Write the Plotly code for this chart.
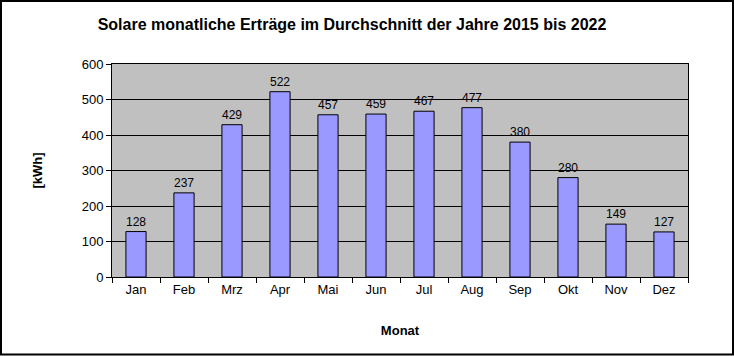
import plotly.graph_objects as go

months = ["Jan", "Feb", "Mrz", "Apr", "Mai", "Jun", "Jul", "Aug", "Sep", "Okt", "Nov", "Dez"]
values = [128, 237, 429, 522, 457, 459, 467, 477, 380, 280, 149, 127]
y_ticks = [0, 100, 200, 300, 400, 500, 600]

W, H = 734, 356
L, R, T, B = 112, 46, 64, 79
pw, ph = W - L - R, H - T - B
font = "Liberation Sans, Arial, sans-serif"

fig = go.Figure(go.Bar(
    x=months, y=values,
    marker=dict(color="#9999FF", line=dict(color="black", width=1)),
    width=0.42,
    text=[str(v) for v in values], textposition="outside",
    textfont=dict(size=13, color="black", family=font),
    cliponaxis=False,
))

fig.update_layout(
    width=W, height=H,
    margin=dict(l=L, r=R, t=T, b=B),
    paper_bgcolor="white", plot_bgcolor="#C0C0C0",
    font=dict(family=font, color="black", size=13),
    showlegend=False,
    title=dict(text="<b>Solare monatliche Erträge im Durchschnitt der Jahre 2015 bis 2022</b>",
               x=(352 - L) / pw, xref="paper", xanchor="center",
               y=1 - 24 / H, yanchor="middle", font=dict(size=16, family=font)),
    xaxis=dict(
        tickson="boundaries", ticks="outside", ticklen=5, tickcolor="black",
        showline=True, linecolor="black", linewidth=1, mirror=True,
        showgrid=False,
        title=dict(text="<b>Monat</b>", standoff=30, font=dict(size=13)),
        tickfont=dict(size=13),
    ),
    yaxis=dict(
        range=[0, 600], tickvals=y_ticks, ticks="outside", ticklen=5, tickcolor="black",
        showline=True, linecolor="black", linewidth=1, mirror=True,
        showgrid=True, gridcolor="black", gridwidth=1, zeroline=False,
        title=dict(text="<b>[kWh]</b>", standoff=36, font=dict(size=13)),
        tickfont=dict(size=13),
    ),
    shapes=[dict(type="rect", xref="paper", yref="paper",
                 x0=-(L - 1) / pw, x1=1 + (R - 1) / pw,
                 y0=-(B - 1.5) / ph, y1=1 + (T - 1) / ph,
                 line=dict(color="black", width=2), fillcolor="rgba(0,0,0,0)")],
    bargap=0.58,
)

fig.write_html("out.html", config={"displayModeBar": False},
               post_script="document.body.style.margin='0';")
